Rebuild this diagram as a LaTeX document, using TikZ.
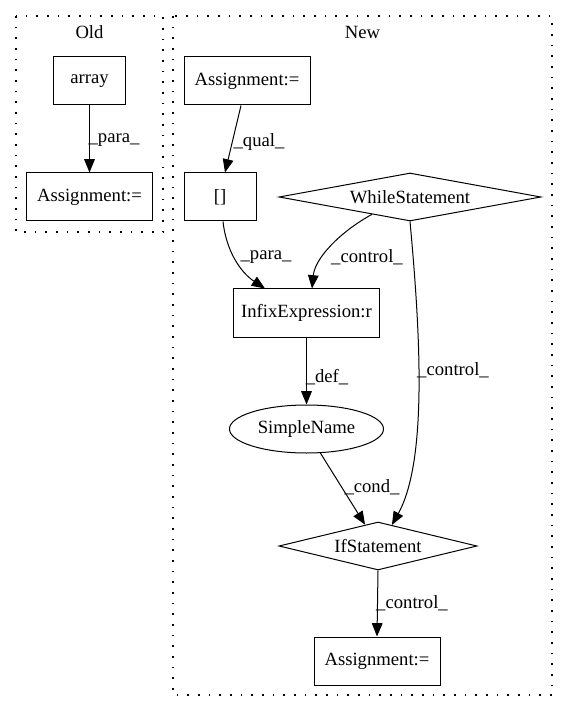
\documentclass[tikz,border=0pt]{standalone}
\usepackage{fontspec}
\setmainfont{Liberation Serif}
\usetikzlibrary{arrows.meta,shapes.geometric,calc}
\begin{document}
\begin{tikzpicture}[x=0.75pt,y=-0.75pt,
  every node/.style={font=\fontsize{14}{16}\selectfont},
  box/.style={draw,line width=0.75pt,rectangle,minimum height=36pt,inner sep=0pt},
  dia/.style={draw,line width=0.75pt,diamond,shape aspect=5,inner sep=0pt,minimum height=36pt},
  ell/.style={draw,line width=0.75pt,ellipse,inner sep=0pt,minimum height=36pt},
  edge/.style={draw,line width=0.75pt,-{Triangle[length=10pt,width=8pt]}},
  lbl/.style={inner sep=0pt},
  cluster/.style={draw,line width=0.8pt,dash pattern=on 1.2pt off 6.8pt}
]
\useasboundingbox (0,0) rectangle (565,712);

% clusters
\draw[cluster] (16,16) rectangle (163,232);
\draw[cluster] (173,16) rectangle (552,695);
\node[lbl] (oldlbl) at (89.5,32) {Old};
\node[lbl] (newlbl) at (362.5,32) {New};

% Old
\node[box,minimum width=54pt] (oldarray) at (89.5,81) {array};
\node[box,minimum width=94.5pt] (oldassign) at (89.5,197) {Assignment:=};

% New
\node[box,minimum width=94.5pt] (newassign) at (247,81) {Assignment:=};
\node[box,minimum width=54pt] (idx) at (220,197) {[]};
\node[dia,minimum width=196.5pt] (while) at (410,197) {WhileStatement};
\node[box,minimum width=110pt] (infix) at (306.5,313) {InfixExpression:r};
\node[ell,minimum width=115.5pt] (simple) at (306.5,429) {SimpleName};
\node[dia,minimum width=148.5pt] (ifst) at (378,546) {IfStatement};
\node[box,minimum width=94.5pt] (lastassign) at (377,661) {Assignment:=};

% edges
\draw[edge] (oldarray) -- (oldassign);
\draw[edge] ($(newassign.south)+(-6,0)$) -- ($(idx.north)+(5,0)$);
\draw[edge] ($(idx.south)+(3,0)$) .. controls (226,250) and (240,272) .. ($(infix.north)+(-41.5,0)$);
\draw[edge] ($(while.south)!0.29!(while.west)$) .. controls (340,232) and (315,258) .. ($(infix.north)+(5.5,0)$);
\draw[edge] (while.south) .. controls (420,330) and (428,460) .. ($(ifst.north)!0.14!(ifst.east)$);
\draw[edge] (infix) -- (simple);
\draw[edge] (simple.-60) -- ($(ifst.north)!0.13!(ifst.west)$);
\draw[edge] (ifst.south) -- (lastassign.north);

% labels
\node[lbl] (lpara1) at (114,140) {\_para\_};
\node[lbl] (lqual) at (259,142) {\_qual\_};
\node[lbl] (lpara2) at (266,257) {\_para\_};
\node[lbl] (lctrl1) at (367,257) {\_control\_};
\node[lbl] (ldef) at (327,377) {\_def\_};
\node[lbl] (lctrl2) at (453,370) {\_control\_};
\node[lbl] (lcond) at (372,487) {\_cond\_};
\node[lbl] (lctrl3) at (412,603) {\_control\_};
\end{tikzpicture}
\end{document}
